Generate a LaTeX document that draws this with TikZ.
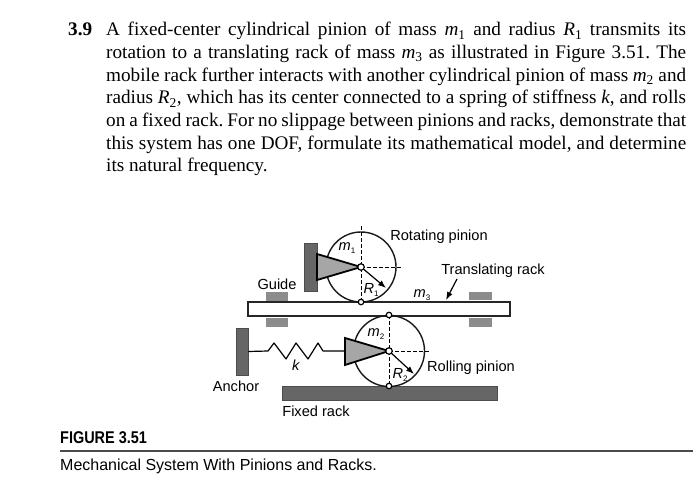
\documentclass[tikz,border=0pt]{standalone}
\usepackage{fontspec}
\usetikzlibrary{arrows.meta}
\setmainfont{Liberation Serif}
\setsansfont{Liberation Sans}
\newcommand{\probline}[1]{\hbox to 580pt{\spaceskip=.25em plus 1em minus .05em\xspaceskip=\spaceskip #1}}
\newcommand{\vsub}[2]{\textit{#1}\textsubscript{#2}}
\newcommand{\msub}[2]{\textit{#1}\raisebox{-0.3ex}{\footnotesize #2}}
\tikzset{
  textline/.style={anchor=base west, inner sep=0pt, font=\fontsize{19.2}{22}\selectfont},
  block/.style={draw=black!70, fill=black!60, line width=0.5pt},
  guide/.style={fill=black!45},
  wedge/.style={draw=black, fill=black!35, line width=1.8pt, line join=miter},
  pinion/.style={draw=black!90, line width=1.4pt},
  axisline/.style={dashed, dash pattern=on 3.5pt off 2.5pt, line width=1pt},
  pin/.style={circle, draw=black, fill=white, line width=1.2pt, inner sep=0pt, minimum size=6.5pt},
  lab/.style={font=\sffamily\fontsize{14.6}{16}\selectfont, inner sep=0pt},
  pointer/.style={-{Latex[length=8pt,width=6pt]}, line width=1.2pt},
}
\begin{document}
\begin{tikzpicture}[x=1pt, y=-1pt]
  \useasboundingbox (0,0) rectangle (700,486);

  % Problem text
  \node[textline, font=\bfseries\fontsize{19.2}{22}\selectfont] (number) at (68,36) {3.9};
  \node[textline] (line1) at (106,36) {\probline{A fixed-center cylindrical pinion of mass \vsub{m}{1} and radius \vsub{R}{1} transmits its}};
  \node[textline] (line2) at (106,58.7) {\probline{rotation to a translating rack of mass \vsub{m}{3} as illustrated in Figure 3.51. The}};
  \node[textline] (line3) at (106,81.4) {\probline{mobile rack further interacts with another cylindrical pinion of mass \vsub{m}{2} and}};
  \node[textline] (line4) at (106,104) {\probline{radius \vsub{R}{2}, which has its center connected to a spring of stiffness \textit{k}, and rolls}};
  \node[textline] (line5) at (106,126.7) {\probline{on a fixed rack. For no slippage between pinions and racks, demonstrate that}};
  \node[textline] (line6) at (106,149.4) {\probline{this system has one DOF, formulate its mathematical model, and determine}};
  \node[textline] (line7) at (106,172) {its natural frequency.};

  % Translating rack
  \draw[draw=black!85, fill=white, line width=1.4pt] (248,302) rectangle (510,316);
  \fill[guide] (266,292) rectangle (288,301);
  \fill[guide] (266,318) rectangle (288,327);
  \fill[guide] (469,292) rectangle (492,300);
  \fill[guide] (469,318) rectangle (492,327);

  % Fixed rack
  \draw[block, line width=0.9pt] (282,386) rectangle (497,400);

  % Rotating pinion
  \coordinate (center1) at (361,267);
  \draw[pinion] (center1) circle (35);
  \draw[axisline] (361,226) -- (361,302);
  \draw[axisline] (center1) -- (403,267);
  \draw[block] (304,243) rectangle (317,291);
  \draw[wedge] (317,254) -- (317,280) -- (center1) -- cycle;
  \node[pin] (pin1) at (center1) {};
  \node[pin, minimum size=5.5pt] (contact1) at (361,302) {};
  \coordinate (tip1) at (386,288);
  \draw[pointer] (pin1) -- (tip1);

  % Rolling pinion
  \coordinate (center2) at (389,351);
  \draw[pinion] (center2) circle (35.5);
  \draw[axisline] (389,315) -- (389,386);
  \draw[axisline] (center2) -- (429,351);
  \draw[wedge] (345,338) -- (345,365) -- (center2) -- cycle;
  \node[pin] (pin2) at (center2) {};
  \node[pin, minimum size=5.5pt] (contact2) at (389,386) {};
  \node[pin, minimum size=5.5pt] (contact3) at (389,315) {};
  \coordinate (tip2) at (414,374);
  \draw[pointer] (pin2) -- (tip2);

  % Anchor and spring
  \node[block, minimum width=12pt, minimum height=47pt, inner sep=0pt] (anchor) at (242,351.5) {};
  \coordinate (springend) at (345,351);
  \draw[line width=1.2pt, line join=round] (anchor.east) -- (268,351) -- (274,343) -- (286,359) -- (296,343)
    -- (308,359) -- (318,343) -- (323,351) -- (springend);

  % Labels
  \node[lab] (m1) at (347,248) {\msub{m}{1}};
  \node[lab] (r1) at (371,290) {\msub{R}{1}};
  \node[lab] (m2) at (376,334) {\msub{m}{2}};
  \node[lab] (r2) at (400,375) {\msub{R}{2}};
  \node[lab] (m3) at (422,295) {\msub{m}{3}};
  \node[lab] (kspring) at (296,365) {\textit{k}};
  \node[lab] (guide) at (277,284) {Guide};
  \node[lab] (anchorlab) at (236,386) {Anchor};
  \node[lab] (fixedrack) at (316,411) {Fixed rack};
  \node[lab] (rotating) at (439,237) {Rotating pinion};
  \node[lab] (translating) at (493,271) {Translating rack};
  \node[lab] (rolling) at (471,368) {Rolling pinion};
  \coordinate (racktop) at (446,300);
  \draw[pointer] (457,279) -- (racktop);

  % Caption
  \node[anchor=west, inner sep=0pt, xscale=0.85, font=\sffamily\bfseries\fontsize{17}{19}\selectfont] (figlabel) at (60,438) {FIGURE 3.51};
  \draw[black!70, line width=1.4pt] (60,451) -- (693,451);
  \node[anchor=west, inner sep=0pt, font=\sffamily\fontsize{16}{18}\selectfont] (caption) at (60,466) {Mechanical System With Pinions and Racks.};
\end{tikzpicture}
\end{document}
